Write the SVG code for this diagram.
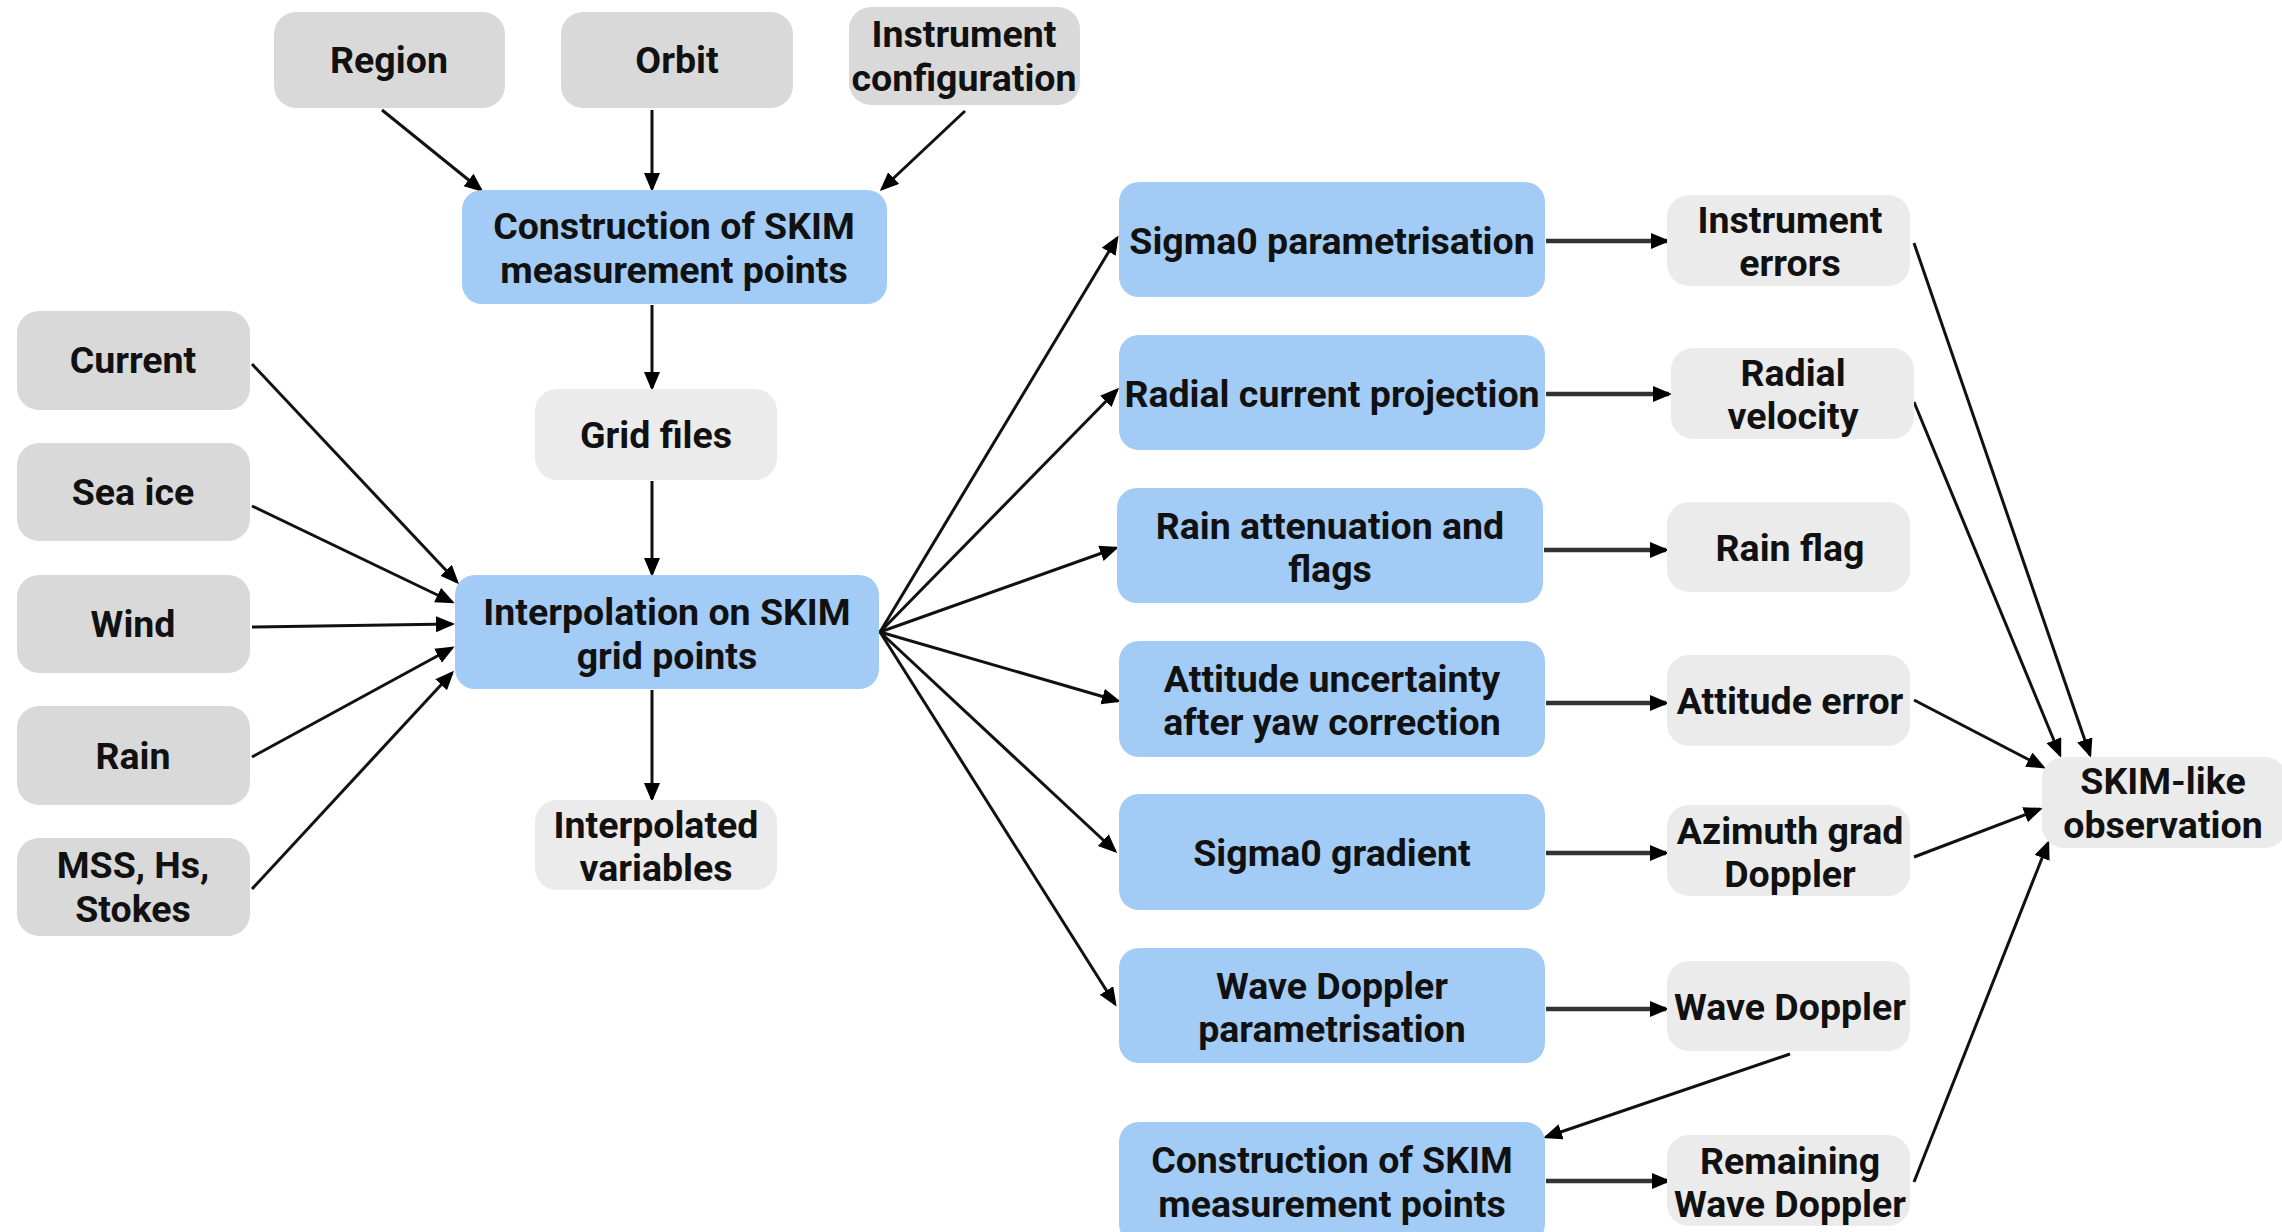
<svg xmlns="http://www.w3.org/2000/svg" width="2282" height="1232" viewBox="0 0 2282 1232">
<style>
.dk{fill:#d9d9d9}
.lt{fill:#ebebeb}
.bl{fill:#a2cbf5}
text{font-family:Roboto,"Liberation Sans",sans-serif;font-weight:700;font-size:37.5px;fill:#111;text-anchor:middle;dominant-baseline:central}
.c line{stroke:#111;stroke-width:3;marker-end:url(#ah)}
.c line.h{stroke:#333;stroke-width:4.5}
</style>
<defs>
<marker id="ah" markerUnits="userSpaceOnUse" markerWidth="20" markerHeight="18" refX="16" refY="8" orient="auto">
<path d="M0,0 L19,8 L0,16 z" fill="#000"/>
</marker>
</defs>
<rect width="2282" height="1232" fill="#fff"/>
<g class="c" id="connectors">
<line x1="382" y1="110" x2="481" y2="190"/>
<line x1="652" y1="110" x2="652" y2="189"/>
<line x1="965" y1="111" x2="882" y2="189"/>
<line x1="652" y1="305" x2="652" y2="388"/>
<line x1="652" y1="481" x2="652" y2="574"/>
<line x1="652" y1="690" x2="652" y2="799"/>
<line x1="252" y1="364" x2="457" y2="582"/>
<line x1="252" y1="506" x2="452" y2="602"/>
<line x1="252" y1="627" x2="452" y2="624"/>
<line x1="252" y1="757" x2="452" y2="648"/>
<line x1="252" y1="889" x2="452" y2="673"/>
<line x1="880" y1="632" x2="1117" y2="238"/>
<line x1="880" y1="632" x2="1117" y2="390"/>
<line x1="880" y1="632" x2="1116" y2="548"/>
<line x1="880" y1="632" x2="1118" y2="701"/>
<line x1="880" y1="632" x2="1115" y2="851"/>
<line x1="880" y1="632" x2="1115" y2="1004"/>
<line class="h" x1="1546" y1="241" x2="1667" y2="241"/>
<line class="h" x1="1546" y1="394" x2="1669" y2="394"/>
<line class="h" x1="1544" y1="550" x2="1666" y2="550"/>
<line class="h" x1="1546" y1="703" x2="1666" y2="703"/>
<line class="h" x1="1546" y1="853" x2="1666" y2="853"/>
<line class="h" x1="1546" y1="1009" x2="1666" y2="1009"/>
<line class="h" x1="1546" y1="1181" x2="1668" y2="1181"/>
<line x1="1790" y1="1054" x2="1546" y2="1137"/>
<line x1="1914" y1="243" x2="2090" y2="755"/>
<line x1="1914" y1="402" x2="2060" y2="755"/>
<line x1="1914" y1="700" x2="2043" y2="767"/>
<line x1="1914" y1="857" x2="2040" y2="809"/>
<line x1="1914" y1="1182" x2="2048" y2="843"/>
</g>
<g id="region"><rect class="dk" x="274" y="12" width="231" height="96" rx="22"/><text x="389" y="60">Region</text></g>
<g id="orbit"><rect class="dk" x="561" y="12" width="232" height="96" rx="22"/><text x="677" y="60">Orbit</text></g>
<g id="instrument-config"><rect class="dk" x="849" y="7" width="231" height="98" rx="22"/><text x="964" y="34">Instrument</text><text x="964" y="78">configuration</text></g>
<g id="construction1"><rect class="bl" x="462" y="190" width="425" height="114" rx="20"/><text x="674" y="226">Construction of SKIM</text><text x="674" y="270">measurement points</text></g>
<g id="grid-files"><rect class="lt" x="535" y="389" width="242" height="91" rx="22"/><text x="656" y="435">Grid files</text></g>
<g id="current"><rect class="dk" x="17" y="311" width="233" height="99" rx="22"/><text x="133" y="360">Current</text></g>
<g id="sea-ice"><rect class="dk" x="17" y="443" width="233" height="98" rx="22"/><text x="133" y="492">Sea ice</text></g>
<g id="wind"><rect class="dk" x="17" y="575" width="233" height="98" rx="22"/><text x="133" y="624">Wind</text></g>
<g id="rain"><rect class="dk" x="17" y="706" width="233" height="99" rx="22"/><text x="133" y="756">Rain</text></g>
<g id="mss"><rect class="dk" x="17" y="838" width="233" height="98" rx="22"/><text x="133" y="865">MSS, Hs,</text><text x="133" y="909">Stokes</text></g>
<g id="interpolation"><rect class="bl" x="455" y="575" width="424" height="114" rx="20"/><text x="667" y="612">Interpolation on SKIM</text><text x="667" y="656">grid points</text></g>
<g id="interp-vars"><rect class="lt" x="535" y="800" width="242" height="90" rx="22"/><text x="656" y="825">Interpolated</text><text x="656" y="868">variables</text></g>
<g id="sigma0-param"><rect class="bl" x="1119" y="182" width="426" height="115" rx="20"/><text x="1332" y="241">Sigma0 parametrisation</text></g>
<g id="radial-current"><rect class="bl" x="1119" y="335" width="426" height="115" rx="20"/><text x="1332" y="394">Radial current projection</text></g>
<g id="rain-atten"><rect class="bl" x="1117" y="488" width="426" height="115" rx="20"/><text x="1330" y="526">Rain attenuation and</text><text x="1330" y="569">flags</text></g>
<g id="attitude-unc"><rect class="bl" x="1119" y="641" width="426" height="116" rx="20"/><text x="1332" y="679">Attitude uncertainty</text><text x="1332" y="722">after yaw correction</text></g>
<g id="sigma0-grad"><rect class="bl" x="1119" y="794" width="426" height="116" rx="20"/><text x="1332" y="853">Sigma0 gradient</text></g>
<g id="wave-doppler-param"><rect class="bl" x="1119" y="948" width="426" height="115" rx="20"/><text x="1332" y="986">Wave Doppler</text><text x="1332" y="1029">parametrisation</text></g>
<g id="construction2"><rect class="bl" x="1119" y="1122" width="426" height="122" rx="20"/><text x="1332" y="1160">Construction of SKIM</text><text x="1332" y="1204">measurement points</text></g>
<g id="instrument-errors"><rect class="lt" x="1667" y="195" width="243" height="91" rx="22"/><text x="1790" y="220">Instrument</text><text x="1790" y="263">errors</text></g>
<g id="radial-velocity"><rect class="lt" x="1671" y="348" width="243" height="91" rx="22"/><text x="1793" y="373">Radial</text><text x="1793" y="416">velocity</text></g>
<g id="rain-flag"><rect class="lt" x="1667" y="502" width="243" height="90" rx="22"/><text x="1790" y="548">Rain flag</text></g>
<g id="attitude-error"><rect class="lt" x="1667" y="655" width="243" height="91" rx="22"/><text x="1790" y="701">Attitude error</text></g>
<g id="azimuth"><rect class="lt" x="1667" y="805" width="243" height="91" rx="22"/><text x="1790" y="831">Azimuth grad</text><text x="1790" y="874">Doppler</text></g>
<g id="wave-doppler"><rect class="lt" x="1667" y="961" width="243" height="90" rx="22"/><text x="1790" y="1007">Wave Doppler</text></g>
<g id="remaining"><rect class="lt" x="1667" y="1135" width="243" height="91" rx="22"/><text x="1790" y="1161">Remaining</text><text x="1790" y="1204">Wave Doppler</text></g>
<g id="skim-like"><rect class="lt" x="2042" y="757" width="245" height="91" rx="22"/><text x="2163" y="781">SKIM-like</text><text x="2163" y="825">observation</text></g>
</svg>
